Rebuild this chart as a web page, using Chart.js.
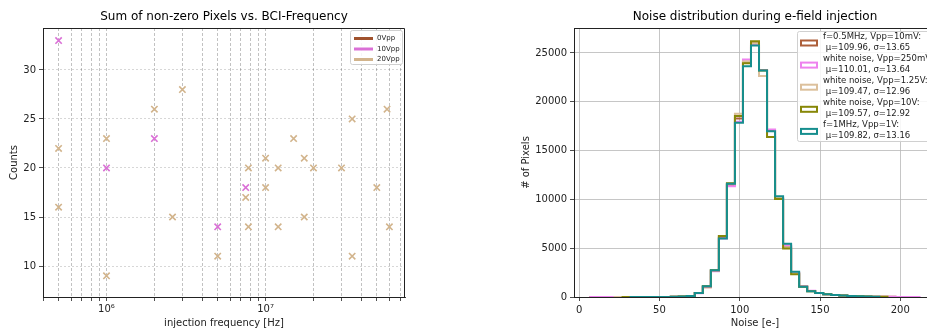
<!DOCTYPE html>
<html>
<head>
<meta charset="utf-8">
<script src="https://cdn.jsdelivr.net/npm/chart.js@4.4.1/dist/chart.umd.min.js"></script>
<style>
html, body { margin: 0; padding: 0; background: #fff; overflow: hidden; width: 927px; height: 329px; }
#left { position: absolute; left: 0; top: 0; }
#right { position: absolute; left: 463px; top: 0; }
</style>
</head>
<body>
<canvas id="left" width="463" height="329"></canvas>
<canvas id="right" width="480" height="329"></canvas>
<script>
// left plot: sum of non-zero pixels vs BCI frequency
const vppLabels = ['0Vpp', '10Vpp', '20Vpp'];
const freq0 = [];
const counts0 = [];
const freq10 = [5e5, 1e6, 2e6, 5e6, 7.5e6];
const counts10 = [33, 20, 23, 14, 18];
const freq20 = [5e5, 5e5, 1e6, 1e6, 2e6, 2.6e6, 3e6, 5e6, 7.5e6, 7.8e6, 7.8e6, 1e7, 1e7, 1.2e7, 1.2e7,
                1.5e7, 1.75e7, 1.75e7, 2e7, 3e7, 3.5e7, 3.5e7, 5e7, 5.8e7, 6e7];
const counts20 = [22, 16, 23, 9, 26, 15, 28, 11, 17, 20, 14, 21, 18, 20, 14,
                  23, 21, 15, 20, 20, 25, 11, 18, 26, 14];
const freqTicks = [4e5, 5e5, 6e5, 7e5, 8e5, 9e5, 1e6, 2e6, 3e6, 4e6, 5e6, 6e6, 7e6, 8e6, 9e6,
                   1e7, 2e7, 3e7, 4e7, 5e7, 6e7, 7e7];
const freqTickLabels = { 1000000: '10\u2076', 10000000: '10\u2077' };
const countTicks = [10, 15, 20, 25, 30];

// right plot: noise histograms (bin edges + counts per bin)
const noiseBinEdges = [7, 12, 17, 22, 27, 32, 37, 42, 47, 52, 57, 62, 67, 72, 77, 82, 87, 92, 97, 102, 107,
                       112, 117, 122, 127, 132, 137, 142, 147, 152, 157, 162, 167, 172, 177, 182, 187, 192, 197, 202, 207, 212];
const noiseLabels = [
  ['f=0.5MHz, Vpp=10mV:', ' \u03bc=109.96, \u03c3=13.65'],
  ['white noise, Vpp=250mV:', ' \u03bc=110.01, \u03c3=13.64'],
  ['white noise, Vpp=1.25V:', ' \u03bc=109.47, \u03c3=12.96'],
  ['white noise, Vpp=10V:', ' \u03bc=109.57, \u03c3=12.92'],
  ['f=1MHz, Vpp=1V:', ' \u03bc=109.82, \u03c3=13.16']
];
const hist05MHz = [1, 1, 1, 1, 1, 2, 3, 5, 8, 12, 20, 40, 100, 400, 1000, 2700, 6100, 11500, 18300, 24100,
                   26000, 23250, 17000, 10100, 5200, 2450, 1080, 620, 410, 280, 200, 150, 110, 80, 50, 30, 20, 15, 10, null, null];
const histWN250mV = [1, 1, 1, 1, 1, 2, 3, 5, 8, 12, 20, 40, 100, 380, 1050, 2650, 6000, 11350, 17950, 24330,
                     25900, 23250, 17150, 10200, 5300, 2450, 1100, 650, 420, 290, 210, 150, 110, 80, 50, 30, 20, 15, 10, 6, 4];
const histWN125V = [null, null, null, 1, 1, 2, 3, 5, 8, 12, 20, 40, 100, 400, 1100, 2750, 6250, 11600, 18780, 24130,
                    26000, 22630, 16400, 10150, 5100, 2400, 1050, 600, 400, 280, 200, 150, 110, 80, 50, 30, 20, null, null, null, null];
const histWN10V = [null, null, null, null, 1, 2, 3, 5, 8, 12, 20, 40, 100, 400, 1100, 2750, 6250, 11650, 18540, 23960,
                   26210, 23200, 16390, 10050, 4980, 2320, 1050, 600, 400, 280, 200, 150, 110, 80, 50, 30, 20, null, null, null, null];
const hist1MHz = [null, null, null, null, null, 2, 3, 5, 8, 12, 20, 40, 100, 400, 1100, 2750, 6000, 11600, 17860, 23650,
                  25770, 23210, 16970, 10330, 5450, 2590, 1050, 600, 400, 280, 200, 150, 110, 80, 50, 30, null, null, null, null, null];
const noiseTicks = [0, 50, 100, 150, 200];
const pixelTicks = [0, 5000, 10000, 15000, 20000, 25000];

Chart.defaults.font.family = 'DejaVu Sans';
Chart.defaults.color = '#222';

function toPoints(xs, ys) {
  return xs.map((x, i) => ({ x: x, y: ys[i] }));
}

// outline points for a step histogram, used with stepped: true
function stepPoints(counts) {
  let first = counts.findIndex(v => v !== null);
  let last = counts.length - 1;
  while (counts[last] === null) last--;
  const pts = [{ x: noiseBinEdges[first], y: 0 }];
  for (let i = first; i <= last; i++) pts.push({ x: noiseBinEdges[i], y: counts[i] });
  pts.push({ x: noiseBinEdges[last + 1], y: 0 });
  return pts;
}

const axTitle = {
  id: 'axTitle',
  afterDraw(chart, args, opts) {
    const ctx = chart.ctx, a = chart.chartArea;
    ctx.save();
    ctx.font = '12px "DejaVu Sans"';
    ctx.fillStyle = '#000';
    ctx.textAlign = 'center';
    ctx.textBaseline = 'middle';
    ctx.fillText(opts.text, (a.left + a.right) / 2, 17);
    ctx.restore();
  }
};

const frame = {
  id: 'frame',
  afterDatasetsDraw(chart) {
    const ctx = chart.ctx, a = chart.chartArea;
    ctx.save();
    ctx.strokeStyle = '#222';
    ctx.lineWidth = 1;
    ctx.beginPath();
    ctx.moveTo(Math.round(a.left) + 0.5, Math.round(a.top) + 0.5);
    ctx.lineTo(Math.round(a.right) - 0.5, Math.round(a.top) + 0.5);
    ctx.lineTo(Math.round(a.right) - 0.5, Math.round(a.bottom));
    ctx.stroke();
    ctx.restore();
  }
};

const legendBox = {
  id: 'legendBox',
  afterDraw(chart, args, o) {
    const ctx = chart.ctx;
    ctx.save();
    ctx.fillStyle = 'rgba(255,255,255,0.85)';
    ctx.strokeStyle = '#d0d0d0';
    ctx.lineWidth = 1;
    ctx.beginPath();
    ctx.roundRect(o.x + 0.5, o.y + 0.5, o.w, o.h, 2);
    ctx.fill();
    ctx.stroke();
    ctx.font = o.fontSize + 'px "DejaVu Sans"';
    ctx.textBaseline = 'middle';
    ctx.textAlign = 'left';
    chart.data.datasets.forEach((ds, i) => {
      const y0 = o.y + o.first + i * o.rowH;
      const color = ds.borderColor;
      if (o.kind === 'line') {
        ctx.strokeStyle = color;
        ctx.lineWidth = 3;
        ctx.beginPath();
        ctx.moveTo(o.x + 4, y0);
        ctx.lineTo(o.x + 23, y0);
        ctx.stroke();
      } else {
        ctx.strokeStyle = color;
        ctx.lineWidth = 2;
        ctx.strokeRect(o.x + 4, y0 + o.patchOff - 2.5, 16, 5);
      }
      ctx.fillStyle = '#222';
      const lines = Array.isArray(ds.label) ? ds.label : [ds.label];
      lines.forEach((t, j) => ctx.fillText(t, o.x + o.textOff, y0 + j * o.lineH));
    });
    ctx.restore();
  }
};

new Chart(document.getElementById('left'), {
  type: 'scatter',
  data: {
    datasets: [
      { label: vppLabels[0], data: toPoints(freq0, counts0), borderColor: '#a0522d', backgroundColor: '#a0522d' },
      { label: vppLabels[1], data: toPoints(freq10, counts10), borderColor: '#da70d6', backgroundColor: '#da70d6' },
      { label: vppLabels[2], data: toPoints(freq20, counts20), borderColor: '#d2b48c', backgroundColor: '#d2b48c' }
    ]
  },
  options: {
    responsive: false,
    animation: false,
    layout: { padding: { left: 0, right: 58, top: 28, bottom: 0 } },
    elements: { point: { pointStyle: 'crossRot', radius: 4.5, borderWidth: 1.6 } },
    plugins: {
      legend: { display: false },
      tooltip: { enabled: false },
      axTitle: { text: 'Sum of non-zero Pixels vs. BCI-Frequency' },
      legendBox: { kind: 'line', x: 350, y: 30, w: 52, h: 34, first: 8.5, rowH: 10.5, lineH: 0, textOff: 27, fontSize: 7 }
    },
    scales: {
      x: {
        type: 'logarithmic',
        min: 3.99e5,
        max: 7.52e7,
        afterBuildTicks: s => { s.ticks = freqTicks.map(v => ({ value: v })); },
        afterFit: s => { s.height = 32; },
        ticks: { autoSkip: false, maxRotation: 0, padding: 2, font: { size: 10 },
                 callback: v => freqTickLabels[v] || '' },
        grid: { color: 'rgba(0,0,0,0.3)', lineWidth: 0.8, tickLength: 4, tickColor: '#222' },
        border: { color: '#222', width: 1, dash: [3, 2] },
        title: { display: true, text: 'injection frequency [Hz]', padding: 0, font: { size: 10 } }
      },
      y: {
        min: 6.84,
        max: 34.28,
        afterBuildTicks: s => { s.ticks = countTicks.map(v => ({ value: v })); },
        afterFit: s => { s.width = 43; },
        ticks: { padding: 3, font: { size: 10 }, callback: v => String(v) },
        grid: { color: 'rgba(0,0,0,0.2)', lineWidth: 0.8, tickLength: 4, tickColor: '#222' },
        border: { color: '#222', width: 1, dash: [2, 2] },
        title: { display: true, text: 'Counts', padding: { top: 8, bottom: 0 }, font: { size: 10 } }
      }
    }
  },
  plugins: [axTitle, frame, legendBox]
});

const histColors = ['#ad5f3a', '#ee82ee', '#dcc09c', '#878708', '#168e8e'];
const histData = [hist05MHz, histWN250mV, histWN125V, histWN10V, hist1MHz];

new Chart(document.getElementById('right'), {
  type: 'line',
  data: {
    datasets: histData.map((h, i) => ({
      label: noiseLabels[i],
      data: stepPoints(h),
      borderColor: histColors[i],
      borderWidth: 2,
      stepped: true,
      pointRadius: 0,
      fill: false,
      order: -i
    }))
  },
  options: {
    responsive: false,
    animation: false,
    layout: { padding: { left: 51, right: 7, top: 28, bottom: 0 } },
    plugins: {
      legend: { display: false },
      tooltip: { enabled: false },
      axTitle: { text: 'Noise distribution during e-field injection' },
      legendBox: { kind: 'rect', x: 334, y: 31, w: 150, h: 110, first: 5.5, rowH: 22.1, lineH: 11, patchOff: 6.5, textOff: 26, fontSize: 8.5 }
    },
    scales: {
      x: {
        type: 'linear',
        min: -3.25,
        max: 222.25,
        afterBuildTicks: s => { s.ticks = noiseTicks.map(v => ({ value: v })); },
        afterFit: s => { s.height = 32; },
        ticks: { autoSkip: false, maxRotation: 0, padding: 3, font: { size: 10 }, callback: v => String(v) },
        grid: { color: '#b8b8b8', lineWidth: 0.8, tickLength: 4, tickColor: '#222' },
        border: { color: '#222', width: 1 },
        title: { display: true, text: 'Noise [e-]', padding: 0, font: { size: 10 } }
      },
      y: {
        min: 0,
        max: 27560,
        afterBuildTicks: s => { s.ticks = pixelTicks.map(v => ({ value: v })); },
        afterFit: s => { s.width = 60; },
        ticks: { padding: 3, font: { size: 10 }, callback: v => String(v) },
        grid: { color: '#b8b8b8', lineWidth: 0.8, tickLength: 4, tickColor: '#222' },
        border: { color: '#222', width: 1 },
        title: { display: true, text: '# of Pixels', padding: { top: 6, bottom: 0 }, font: { size: 10 } }
      }
    }
  },
  plugins: [axTitle, frame, legendBox]
});
</script>
</body>
</html>
